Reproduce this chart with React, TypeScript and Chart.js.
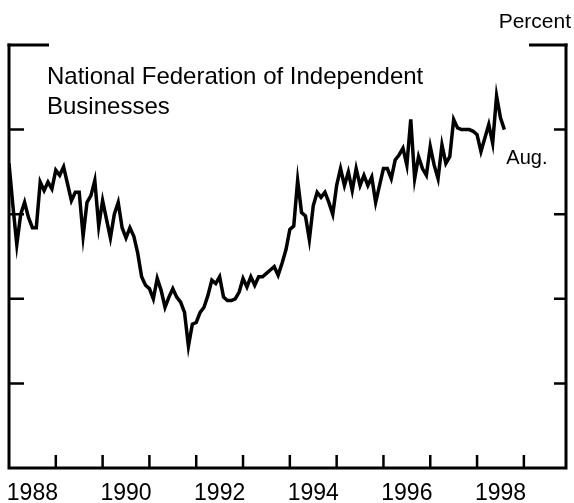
import { useEffect, useRef } from "react";
import { Chart, registerables } from "chart.js";

Chart.register(...registerables);

// ---- data (monthly, Jan 1988 – Aug 1998) ----
const startYear = 1988;
const v1988 = [23.0, 20.5, 18.2, 20.0, 20.7, 19.8, 19.2, 19.2, 21.9, 21.4, 21.9, 21.5];
const v1989 = [22.6, 22.3, 22.8, 21.8, 20.8, 21.3, 21.3, 18.7, 20.7, 21.1, 22.0, 19.3];
const v1990 = [20.8, 19.7, 18.6, 20.0, 20.7, 19.2, 18.6, 19.2, 18.7, 17.7, 16.3, 15.8];
const v1991 = [15.6, 15.0, 16.2, 15.5, 14.5, 15.1, 15.6, 15.1, 14.8, 14.2, 12.2, 13.5];
const v1992 = [13.6, 14.2, 14.5, 15.2, 16.1, 15.9, 16.3, 15.1, 14.9, 14.9, 15.0, 15.4];
const v1993 = [16.2, 15.7, 16.3, 15.8, 16.3, 16.3, 16.5, 16.7, 16.9, 16.4, 17.1, 17.9];
const v1994 = [19.1, 19.3, 22.0, 20.1, 19.9, 18.5, 20.5, 21.3, 21.0, 21.3, 20.7, 20.0];
const v1995 = [21.7, 22.7, 21.7, 22.5, 21.4, 22.7, 21.7, 22.3, 21.7, 22.2, 20.7, 21.7];
const v1996 = [22.7, 22.7, 22.1, 23.2, 23.5, 23.9, 22.9, 25.6, 22.1, 23.4, 22.7, 22.3];
const v1997 = [24.0, 22.9, 22.1, 24.1, 23.0, 23.4, 25.6, 25.1, 25.0, 25.0, 25.0, 24.9];
const v1998 = [24.7, 23.7, 24.5, 25.3, 24.2, 27.0, 25.7, 25.0];

const seriesValues = [
  ...v1988, ...v1989, ...v1990, ...v1991, ...v1992, ...v1993,
  ...v1994, ...v1995, ...v1996, ...v1997, ...v1998,
];

const yearTicks = [1989, 1990, 1991, 1992, 1993, 1994, 1995, 1996, 1997, 1998, 1999];
const yearLabels = [1988, 1990, 1992, 1994, 1996, 1998];
const valueTicks = [10, 15, 20, 25];
const xMin = 1988;
const xMax = 1999.9;
const yMin = 5;
const yMax = 30;

const titleLines = ["National Federation of Independent", "Businesses"];
const unitLabel = "Percent";
const lastLabel = "Aug.";

const FONT = "'Liberation Sans', Arial, Helvetica, sans-serif";

const framePlugin = {
  id: "framePlugin",
  afterDraw(chart: any) {
    const { ctx, chartArea, scales } = chart;
    const xs = scales.x;
    const ys = scales.y;
    const L = chartArea.left;
    const R = chartArea.right;
    const T = chartArea.top;
    const B = chartArea.bottom;
    ctx.save();
    ctx.strokeStyle = "#000";
    ctx.lineWidth = 3;
    ctx.lineCap = "butt";
    // frame: left, bottom, right
    ctx.beginPath();
    ctx.moveTo(L, T - 1.5);
    ctx.lineTo(L, B);
    ctx.lineTo(R, B);
    ctx.lineTo(R, T - 1.5);
    ctx.stroke();
    // top brackets
    ctx.beginPath();
    ctx.moveTo(L - 1.5, T);
    ctx.lineTo(L + 40, T);
    ctx.moveTo(R - 37, T);
    ctx.lineTo(R + 1.5, T);
    ctx.stroke();
    // y ticks
    ctx.lineWidth = 2.5;
    ctx.beginPath();
    for (const v of valueTicks) {
      const py = ys.getPixelForValue(v);
      ctx.moveTo(L, py);
      ctx.lineTo(L + 15, py);
      ctx.moveTo(R, py);
      ctx.lineTo(R - 12, py);
    }
    // x ticks
    for (const yr of yearTicks) {
      const px = xs.getPixelForValue(yr);
      ctx.moveTo(px, B);
      ctx.lineTo(px, B - 13);
    }
    ctx.stroke();

    ctx.fillStyle = "#000";
    // year labels
    ctx.font = `23px ${FONT}`;
    ctx.textAlign = "center";
    ctx.textBaseline = "alphabetic";
    for (const yr of yearLabels) {
      const px = xs.getPixelForValue(yr + 0.5);
      ctx.fillText(String(yr), px, B + 32);
    }
    // unit label
    ctx.font = `21px ${FONT}`;
    ctx.textAlign = "right";
    ctx.fillText(unitLabel, R + 5, 28);
    // title
    ctx.font = `24px ${FONT}`;
    ctx.textAlign = "left";
    ctx.fillText(titleLines[0], L + 38, 84);
    ctx.fillText(titleLines[1], L + 38, 114);
    // last obs label
    const lastIdx = seriesValues.length - 1;
    const lx = xs.getPixelForValue(startYear + lastIdx / 12);
    ctx.font = `20px ${FONT}`;
    ctx.fillText(lastLabel, lx + 2, 164);
    ctx.restore();
  },
};

export default function App() {
  const canvasRef = useRef<HTMLCanvasElement | null>(null);

  useEffect(() => {
    const canvas = canvasRef.current;
    if (!canvas) return;
    const data = seriesValues.map((v, i) => ({ x: startYear + i / 12, y: v }));
    const chart = new Chart(canvas, {
      type: "line",
      data: {
        datasets: [
          {
            data,
            borderColor: "#000",
            borderWidth: 3.5,
            pointRadius: 0,
            tension: 0,
            fill: false,
          },
        ],
      },
      options: {
        animation: false,
        responsive: false,
        maintainAspectRatio: false,
        layout: { padding: { left: 9, right: 8, top: 45, bottom: 35 } },
        plugins: {
          legend: { display: false },
          tooltip: { enabled: false },
          title: { display: false },
        },
        scales: {
          x: {
            type: "linear",
            min: xMin,
            max: xMax,
            display: false,
          },
          y: {
            type: "linear",
            min: yMin,
            max: yMax,
            display: false,
          },
        },
      },
      plugins: [framePlugin],
    });
    return () => chart.destroy();
  }, []);

  return (
    <div style={{ position: "fixed", left: 0, top: 0, width: 574, height: 503, background: "#fff" }}>
      <canvas ref={canvasRef} width={574} height={503} style={{ width: 574, height: 503 }} />
    </div>
  );
}
